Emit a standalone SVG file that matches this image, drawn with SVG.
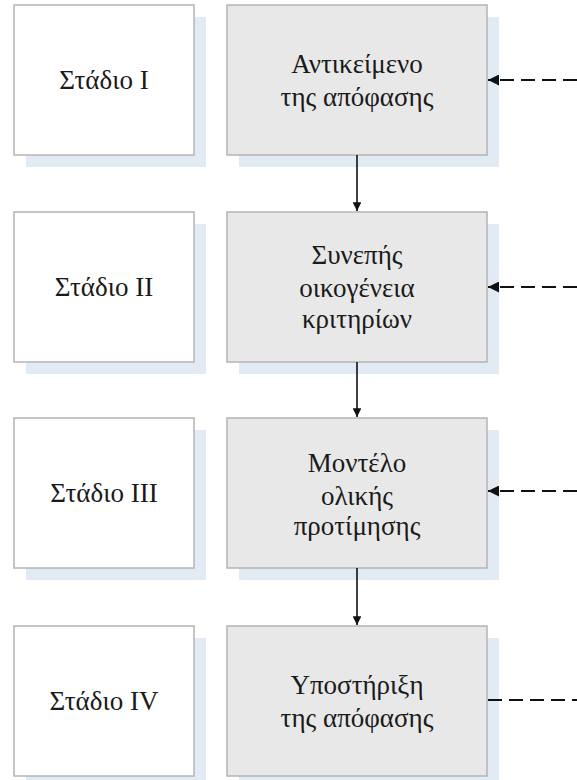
<svg xmlns="http://www.w3.org/2000/svg" width="577" height="780" viewBox="0 0 577 780">
  <defs>
    <marker id="head" viewBox="0 0 10 10" refX="10" refY="5" markerWidth="5.5" markerHeight="5.5" orient="auto" markerUnits="strokeWidth">
      <path d="M0,0 L10,5 L0,10 Z" fill="#111"/>
    </marker>
    <style>
      .shadow { fill: #e2eaf3; }
      .stage { fill: #ffffff; stroke: #b4b4b4; stroke-width: 1.5; }
      .step { fill: #e8e8e8; stroke: #b4b4b4; stroke-width: 1.5; }
      text { font-family: "Liberation Serif", "DejaVu Serif", serif; font-size: 27px; fill: #1a1a1a; text-anchor: middle; }
      .flow { stroke: #111; stroke-width: 1.6; fill: none; marker-end: url(#head); }
      .feed { stroke: #111; stroke-width: 2; fill: none; stroke-dasharray: 14 7; }
    </style>
  </defs>

  <!-- stage labels -->
  <g id="stage1">
    <rect class="shadow" x="26" y="17" width="180" height="150"/>
    <rect class="stage" x="14" y="5" width="180" height="150"/>
    <text x="104" y="89">Στάδιο I</text>
  </g>
  <g id="stage2">
    <rect class="shadow" x="26" y="224" width="180" height="150"/>
    <rect class="stage" x="14" y="212" width="180" height="150"/>
    <text x="104" y="296">Στάδιο II</text>
  </g>
  <g id="stage3">
    <rect class="shadow" x="26" y="430" width="180" height="150"/>
    <rect class="stage" x="14" y="418" width="180" height="150"/>
    <text x="104" y="502">Στάδιο III</text>
  </g>
  <g id="stage4">
    <rect class="shadow" x="26" y="638" width="180" height="150"/>
    <rect class="stage" x="14" y="626" width="180" height="150"/>
    <text x="104" y="710">Στάδιο IV</text>
  </g>

  <!-- process steps -->
  <g id="step1">
    <rect class="shadow" x="239" y="17" width="260" height="150"/>
    <rect class="step" x="227" y="5" width="260" height="150"/>
    <text x="357" y="73">Αντικείμενο</text>
    <text x="357" y="106">της απόφασης</text>
  </g>
  <g id="step2">
    <rect class="shadow" x="239" y="224" width="260" height="150"/>
    <rect class="step" x="227" y="212" width="260" height="150"/>
    <text x="357" y="264">Συνεπής</text>
    <text x="357" y="297">οικογένεια</text>
    <text x="357" y="328">κριτηρίων</text>
  </g>
  <g id="step3">
    <rect class="shadow" x="239" y="430" width="260" height="150"/>
    <rect class="step" x="227" y="418" width="260" height="150"/>
    <text x="357" y="472">Μοντέλο</text>
    <text x="357" y="505">ολικής</text>
    <text x="357" y="535">προτίμησης</text>
  </g>
  <g id="step4">
    <rect class="shadow" x="239" y="638" width="260" height="150"/>
    <rect class="step" x="227" y="626" width="260" height="150"/>
    <text x="357" y="694">Υποστήριξη</text>
    <text x="357" y="727">της απόφασης</text>
  </g>

  <!-- connectors -->
  <g id="connectors">
    <line class="flow" x1="357" y1="155" x2="357" y2="211"/>
    <line class="flow" x1="357" y1="362" x2="357" y2="417"/>
    <line class="flow" x1="357" y1="568" x2="357" y2="625"/>
    <line class="feed" x1="577" y1="80" x2="488" y2="80" marker-end="url(#head)"/>
    <line class="feed" x1="577" y1="287" x2="488" y2="287" marker-end="url(#head)"/>
    <line class="feed" x1="577" y1="491" x2="488" y2="491" marker-end="url(#head)"/>
    <line class="feed" x1="488" y1="700" x2="577" y2="700"/>
  </g>
</svg>
